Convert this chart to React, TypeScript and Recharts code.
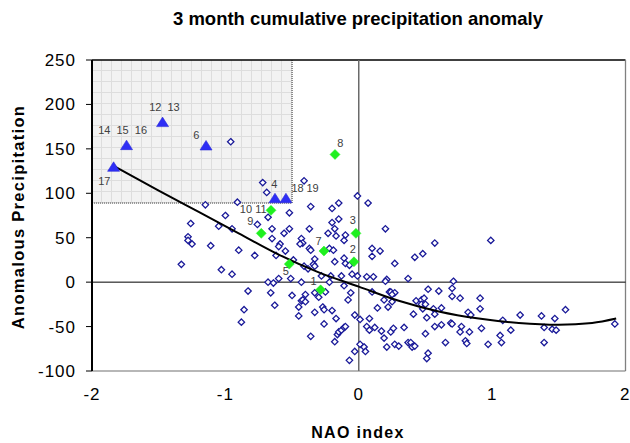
import React from 'react';
import { ScatterChart, Scatter, XAxis, YAxis, ReferenceLine, ReferenceArea } from 'recharts';

const FONT = '"Liberation Sans", Arial, Helvetica, sans-serif';

const xTicks = [-2, -1, 0, 1, 2];
const yTicks = [-100, -50, 0, 50, 100, 150, 200, 250];

// open diamonds: all other seasons [NAO index, anomaly]
const otherYears: [number, number][] = [
  [-0.96, 158], [-0.72, 112], [-0.69, 101], [-0.41, 114], [-1.15, 87], [-0.91, 90], [-0.36, 85],
  [-0.01, 97], [0.07, 89], [-0.2, 83], [-0.15, 89], [-1.26, 66], [-1.0, 75], [-0.68, 73], [-0.52, 78],
  [-0.2, 67], [-0.15, 71], [-1.05, 63], [-0.95, 60], [-0.76, 65], [-0.65, 60], [-0.52, 60], [-0.37, 60],
  [-0.18, 60], [-0.23, 55], [-0.17, 52], [-0.56, 55], [-0.65, 49], [-1.28, 51], [-1.28, 47], [-1.25, 43],
  [-1.11, 41], [-0.9, 36], [-0.78, 30], [-0.59, 43], [-0.6, 40], [-0.55, 35], [-0.62, 30], [-0.43, 49],
  [-0.42, 44], [-0.44, 43], [-0.37, 38], [-0.36, 36], [-0.22, 38], [-0.19, 36], [-0.11, 47], [-0.1, 53],
  [0.1, 38], [0.1, 29], [0.16, 35], [0.2, 60], [0.27, 21], [-0.33, 26], [-0.34, 20], [-0.33, 18],
  [-0.41, 18], [-0.38, 15], [-0.49, 25], [-0.11, 27], [-0.1, 21], [-0.13, 7], [-0.05, 9], [-0.01, 7],
  [0.06, 6], [0.11, 6], [-0.6, 4], [-0.51, 4], [-1.03, 14], [-0.95, 9], [-1.33, 20], [0.21, 3],
  [-0.68, 0], [-0.64, -1], [-0.43, 0], [-0.28, 7], [-0.22, 0], [-0.21, 7], [-0.11, -4], [-0.18, 23],
  [-0.07, 19], [0.2, 1], [0.23, -11], [0.24, -11], [0.1, -11], [0.27, -12], [-0.83, -10], [-0.86, -31],
  [-0.88, -45], [-0.66, -12], [-0.63, -26], [-0.5, -15], [-0.45, -38], [-0.45, -28], [-0.43, -21],
  [-0.42, -20], [-0.4, -14], [-0.4, -22], [-0.36, -61], [-0.33, -34], [-0.33, -12], [-0.27, -28],
  [-0.26, -31], [-0.26, -47], [-0.25, -11], [-0.2, -32], [-0.17, -41], [-0.18, -67], [-0.16, -59],
  [-0.15, -56], [-0.13, -54], [-0.11, -51], [-0.1, -50], [-0.07, -88], [-0.08, -20], [-0.06, -12],
  [-0.03, -37], [-0.03, -78], [0.01, -42], [0.01, -70], [0.04, -73], [0.05, -78], [0.08, -41],
  [0.06, -50], [0.12, -51], [0.14, -29], [0.17, -55], [0.19, -63], [0.21, -73], [0.19, -20], [0.22, -28],
  [0.24, -56], [0.26, -52], [0.27, -70], [0.25, -22], [-0.3, -17], [0.08, -54],
  [0.57, 44], [0.99, 47], [0.42, 28], [0.48, 32], [0.37, 4], [0.71, 1], [0.7, -7], [0.7, -16], [0.76, -18],
  [0.52, -8], [0.6, -10], [0.25, -14], [0.43, -21], [0.47, -20], [0.49, -18], [0.47, -25], [0.5, -25],
  [0.48, -30], [0.41, -36], [0.56, -30], [0.62, -29], [0.57, -36], [0.51, -40], [0.34, -51], [0.3, -72],
  [0.37, -68], [0.39, -68], [0.4, -73], [0.42, -72], [0.5, -58], [0.52, -80], [0.51, -86], [0.57, -50],
  [0.62, -48], [0.69, -46], [0.7, -47], [0.65, -68], [0.77, -50], [0.76, -56], [0.8, -66], [0.81, -69],
  [0.83, -56], [0.82, -34], [0.84, -37], [0.91, -18], [0.91, -30], [0.92, -52], [0.97, -70], [1.06, -60],
  [1.07, -68], [1.08, -43], [1.14, -54], [1.21, -37], [1.37, -38], [1.39, -51], [1.39, -68], [1.45, -53],
  [1.48, -54], [1.47, -41], [1.55, -31], [1.92, -47],
];

// blue triangles (labelled seasons)
const blueYears: [number, number][] = [
  [-1.838, 129.8], [-1.741, 154.2], [-1.471, 180.1], [-1.145, 153.8], [-0.628, 94.4], [-0.546, 94.4],
];

// green diamonds (labelled seasons)
const greenYears: [number, number][] = [
  [-0.178, 143.7], [-0.658, 80.8], [-0.731, 54.9], [-0.021, 54.9], [-0.261, 35], [-0.036, 22.9],
  [-0.521, 20.3], [-0.286, -8.7],
];

// annotation numbers [x, y, text]
const yearLabels: [number, number, string][] = [
  [-1.908, 114.3, '17'], [-1.908, 170.8, '14'], [-1.771, 170.8, '15'], [-1.633, 170.8, '16'],
  [-1.525, 197.5, '12'], [-1.388, 197.5, '13'], [-1.218, 165.9, '6'], [-0.633, 110.6, '4'],
  [-0.459, 106.1, '18'], [-0.346, 106.1, '19'], [-0.139, 156.9, '8'], [-0.846, 82.4, '10'],
  [-0.733, 82.4, '11'], [-0.813, 69.2, '9'], [-0.044, 69.5, '3'], [-0.301, 46.6, '7'],
  [-0.044, 37.2, '2'], [-0.546, 12.8, '5'], [-0.339, 1.5, '1'],
];

// fitted trend curve
const trendCurve: [number, number][] = [
  [-1.84, 131], [-1.5, 103], [-1.2, 79], [-0.9, 55], [-0.6, 31], [-0.3, 11], [0, -5], [0.3, -21],
  [0.6, -33], [0.9, -41], [1.2, -46], [1.5, -48], [1.75, -46], [1.93, -41],
];

// shaded region
const boxX = [-2, -0.5];
const boxY = [89, 250];

const toPts = (arr: [number, number][]) => arr.map(([x, y]) => ({ x, y }));

const OpenDiamond = (p: any) => {
  const { cx, cy } = p;
  if (cx == null || cy == null) return null;
  const r = 3.2;
  return (
    <path
      d={`M ${cx} ${cy - r} L ${cx + r} ${cy} L ${cx} ${cy + r} L ${cx - r} ${cy} Z`}
      fill="#ffffff"
      stroke="#1a1a99"
      strokeWidth={1.3}
    />
  );
};

const GreenDiamond = (p: any) => {
  const { cx, cy } = p;
  if (cx == null || cy == null) return null;
  const r = 5;
  return (
    <path
      d={`M ${cx} ${cy - r} L ${cx + r} ${cy} L ${cx} ${cy + r} L ${cx - r} ${cy} Z`}
      fill="#1ff01f"
      stroke="#1ff01f"
      strokeWidth={0.5}
    />
  );
};

const Triangle = (p: any) => {
  const { cx, cy } = p;
  if (cx == null || cy == null) return null;
  return (
    <path
      d={`M ${cx} ${cy - 5} L ${cx + 6} ${cy + 4.5} L ${cx - 6} ${cy + 4.5} Z`}
      fill="#2e2ef5"
      stroke="#2a2ad8"
      strokeWidth={0.6}
    />
  );
};

const LabelText = (p: any) => {
  const { cx, cy, payload } = p;
  if (cx == null || cy == null) return null;
  return (
    <text
      x={cx}
      y={cy}
      textAnchor="middle"
      dominantBaseline="central"
      fontSize={11}
      fontFamily={FONT}
      fill="#404040"
    >
      {payload?.label}
    </text>
  );
};

const NoDot = () => null;

const GridBox = (props: any) => {
  const { x, y, width, height } = props;
  if (x == null) return null;
  return (
    <g>
      <defs>
        <pattern id="boxGrid" width="10" height="11" patternUnits="userSpaceOnUse" x={x} y={y}>
          <rect width="10" height="11" fill="#f2f2f2" />
          <path d="M 9.5 0 L 9.5 11 M 0 10.5 L 10 10.5" stroke="#dddddd" strokeWidth="1" fill="none" />
        </pattern>
      </defs>
      <rect x={x} y={y} width={width} height={height} fill="url(#boxGrid)" />
      <path
        d={`M ${x + width} ${y} L ${x + width} ${y + height} L ${x} ${y + height}`}
        stroke="#333333"
        strokeWidth={1}
        strokeDasharray="1 1"
        fill="none"
      />
    </g>
  );
};

export default function App() {
  const labelData = yearLabels.map(([x, y, label]) => ({ x, y, label }));
  const tickStyle = { fill: '#000', fontSize: 17, fontFamily: FONT, letterSpacing: 1 };
  return (
    <div style={{ position: 'absolute', left: 0, top: 0, width: 630, height: 443, background: '#fff' }}>
      <ScatterChart width={630} height={443} margin={{ top: 60, right: 4.5, bottom: 42, left: 0 }}>
        <XAxis
          type="number"
          dataKey="x"
          domain={[-2, 2]}
          ticks={xTicks}
          allowDataOverflow
          tickLine={false}
          tickSize={6}
          tickMargin={11}
          axisLine={{ stroke: '#707070', strokeWidth: 1.2 }}
          tick={tickStyle}
          height={30}
        />
        <YAxis
          type="number"
          dataKey="y"
          domain={[-100, 250]}
          ticks={yTicks}
          allowDataOverflow
          tickSize={6}
          tickMargin={10}
          tickLine={{ stroke: '#000' }}
          axisLine={{ stroke: '#000', strokeWidth: 2 }}
          tick={tickStyle}
          width={92}
        />
        <ReferenceArea x1={boxX[0]} x2={boxX[1]} y1={boxY[0]} y2={boxY[1]} shape={GridBox} />
        <ReferenceLine y={250} stroke="#000" strokeWidth={1.3} />
        <ReferenceLine x={2} stroke="#808080" strokeWidth={1.3} />
        <ReferenceLine y={0} stroke="#000" strokeWidth={1} />
        <ReferenceLine x={0} stroke="#6a6a6a" strokeWidth={1.5} />
        <Scatter data={toPts(otherYears)} shape={OpenDiamond} isAnimationActive={false} />
        <Scatter
          data={toPts(trendCurve)}
          shape={NoDot}
          line={{ stroke: '#000', strokeWidth: 2 }}
          lineType="joint"
          lineJointType="monotoneX"
          isAnimationActive={false}
        />
        <Scatter data={toPts(greenYears)} shape={GreenDiamond} isAnimationActive={false} />
        <Scatter data={toPts(blueYears)} shape={Triangle} isAnimationActive={false} />
        <Scatter data={labelData} shape={LabelText} isAnimationActive={false} />
      </ScatterChart>
      <svg
        width={630}
        height={443}
        style={{ position: 'absolute', left: 0, top: 0, pointerEvents: 'none' }}
      >
        <text x={358} y={25} textAnchor="middle" fontFamily={FONT} fontWeight="bold" fontSize={18.5} fill="#000">
          3 month cumulative precipitation anomaly
        </text>
        <text x={358} y={438} textAnchor="middle" fontFamily={FONT} fontWeight="bold" fontSize={16} letterSpacing={1.3} fill="#000">
          NAO index
        </text>
        <text
          x={24}
          y={217}
          transform="rotate(-90 24 217)"
          textAnchor="middle"
          fontFamily={FONT}
          fontWeight="bold"
          fontSize={16.5}
          letterSpacing={1.3}
          fill="#000"
        >
          Anomalous Precipitation
        </text>
      </svg>
    </div>
  );
}
